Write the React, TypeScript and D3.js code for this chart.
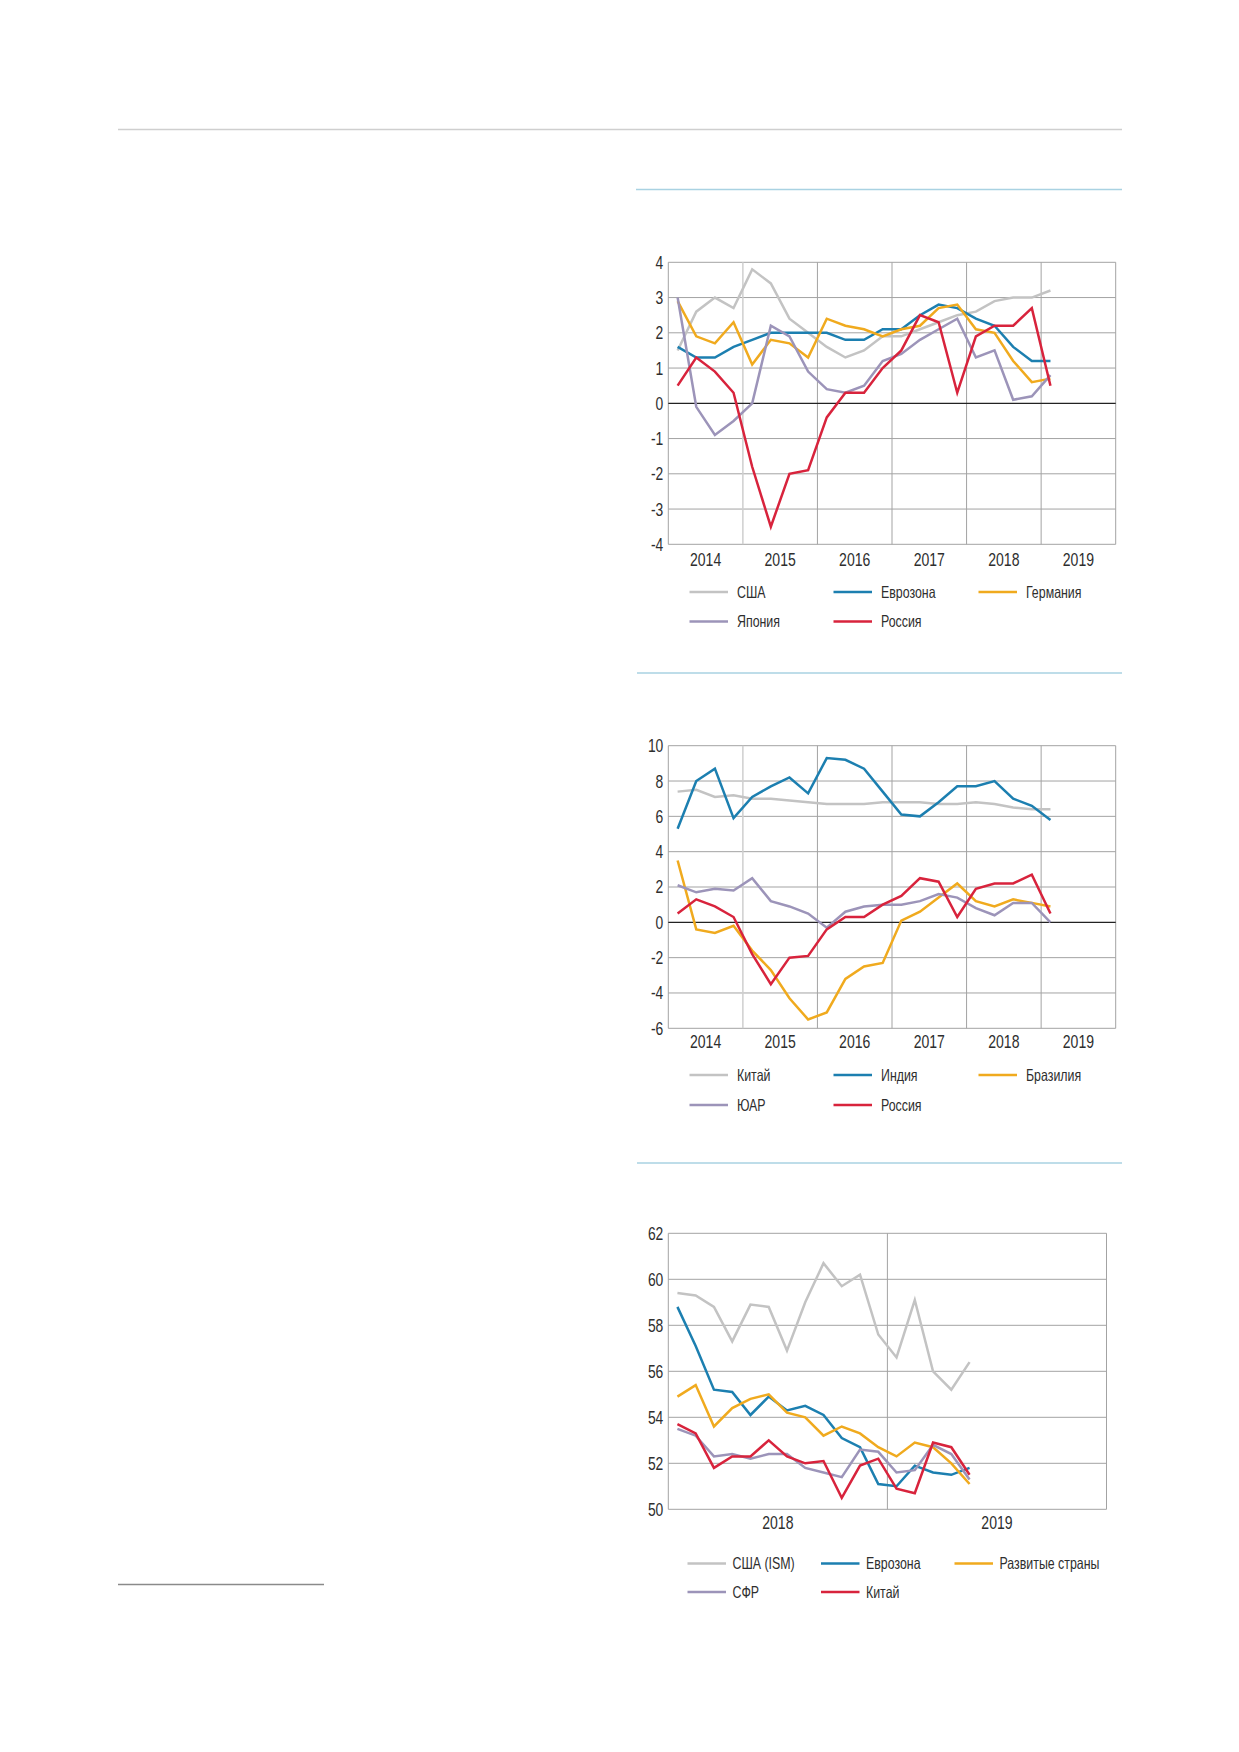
import React from "react";
import * as d3 from "d3";

// ---------- DATA ----------
// Chart 1: quarterly, 2014Q1 .. 2019Q1
const quarterStart = 2014;
const usa = [1.5, 2.6, 3.0, 2.7, 3.8, 3.4, 2.4, 2.0, 1.6, 1.3, 1.5, 1.9, 1.9, 2.1, 2.3, 2.5, 2.6, 2.9, 3.0, 3.0, 3.2];
const eurozone = [1.6, 1.3, 1.3, 1.6, 1.8, 2.0, 2.0, 2.0, 2.0, 1.8, 1.8, 2.1, 2.1, 2.5, 2.8, 2.7, 2.4, 2.2, 1.6, 1.2, 1.2];
const germany = [2.9, 1.9, 1.7, 2.3, 1.1, 1.8, 1.7, 1.3, 2.4, 2.2, 2.1, 1.9, 2.1, 2.2, 2.7, 2.8, 2.1, 2.0, 1.2, 0.6, 0.7];
const japan = [3.0, -0.1, -0.9, -0.5, 0.0, 2.2, 1.9, 0.9, 0.4, 0.3, 0.5, 1.2, 1.4, 1.8, 2.1, 2.4, 1.3, 1.5, 0.1, 0.2, 0.8];
const russia = [0.5, 1.3, 0.9, 0.3, -1.8, -3.5, -2.0, -1.9, -0.4, 0.3, 0.3, 1.0, 1.5, 2.5, 2.3, 0.3, 1.9, 2.2, 2.2, 2.7, 0.5];

// Chart 2: quarterly
const china = [7.4, 7.5, 7.1, 7.2, 7.0, 7.0, 6.9, 6.8, 6.7, 6.7, 6.7, 6.8, 6.8, 6.8, 6.7, 6.7, 6.8, 6.7, 6.5, 6.4, 6.4];
const india = [5.3, 8.0, 8.7, 5.9, 7.1, 7.7, 8.2, 7.3, 9.3, 9.2, 8.7, 7.4, 6.1, 6.0, 6.8, 7.7, 7.7, 8.0, 7.0, 6.6, 5.8];
const brazil = [3.5, -0.4, -0.6, -0.2, -1.6, -2.7, -4.3, -5.5, -5.1, -3.2, -2.5, -2.3, 0.1, 0.6, 1.4, 2.2, 1.2, 0.9, 1.3, 1.1, 0.9];
const southAfrica = [2.1, 1.7, 1.9, 1.8, 2.5, 1.2, 0.9, 0.5, -0.3, 0.6, 0.9, 1.0, 1.0, 1.2, 1.6, 1.4, 0.8, 0.4, 1.1, 1.1, 0.0];

// Chart 3: monthly, Jan 2018 .. May 2019
const pmiUsaIsm = [59.4, 59.3, 58.8, 57.3, 58.9, 58.8, 56.9, 59.0, 60.7, 59.7, 60.2, 57.6, 56.6, 59.1, 56.0, 55.2, 56.4];
const pmiEurozone = [58.8, 57.1, 55.2, 55.1, 54.1, 54.9, 54.3, 54.5, 54.1, 53.1, 52.7, 51.1, 51.0, 51.9, 51.6, 51.5, 51.8];
const pmiDeveloped = [54.9, 55.4, 53.6, 54.4, 54.8, 55.0, 54.2, 54.0, 53.2, 53.6, 53.3, 52.7, 52.3, 52.9, 52.7, 52.0, 51.1];
const pmiSfr = [53.5, 53.2, 52.3, 52.4, 52.2, 52.4, 52.4, 51.8, 51.6, 51.4, 52.6, 52.5, 51.6, 51.7, 52.8, 52.4, 51.3];
const pmiChina = [53.7, 53.3, 51.8, 52.3, 52.3, 53.0, 52.3, 52.0, 52.1, 50.5, 51.9, 52.2, 50.9, 50.7, 52.9, 52.7, 51.5];

const years1 = [2014, 2015, 2016, 2017, 2018, 2019];
const yTicks1 = [-4, -3, -2, -1, 0, 1, 2, 3, 4];
const yTicks2 = [-6, -4, -2, 0, 2, 4, 6, 8, 10];
const yTicks3 = [50, 52, 54, 56, 58, 60, 62];
const years3 = [2018, 2019];

const legend1 = ["США", "Еврозона", "Германия", "Япония", "Россия"];
const legend2 = ["Китай", "Индия", "Бразилия", "ЮАР", "Россия"];
const legend3 = ["США (ISM)", "Еврозона", "Развитые страны", "СФР", "Китай"];

// ---------- STYLE ----------
const C_GRAY = "#c3c3c3";
const C_BLUE = "#1c7fb0";
const C_ORANGE = "#f0aa1e";
const C_PURPLE = "#9c94b9";
const C_RED = "#d8233c";
const GRID = "#a3a3a3";
const FONT = "'Liberation Sans', Arial, sans-serif";
const TXT = "#2e2e2e";

function NarrowText(props: { x: number; y: number; anchor?: string; size: number; sx: number; children: React.ReactNode; middle?: boolean }) {
  return (
    <text transform={`translate(${props.x},${props.y}) scale(${props.sx},1)`} x={0} y={0}
      dy={props.middle ? "0.36em" : undefined}
      textAnchor={props.anchor || "start"} fontFamily={FONT} fontSize={props.size} fill={TXT}>
      {props.children}
    </text>
  );
}

type Series = { name: string; values: number[]; color: string };

function LineChart(props: {
  x0: number; x1: number; yTop: number; yBot: number;
  yDomain: [number, number]; yTicks: number[];
  xDomain: [number, number]; xPos: (i: number) => number;
  vlines: number[]; lightVline?: number; xLabels: { v: number; t: string }[]; xLabelY: number;
  zeroLine: boolean; series: Series[];
  legendCols: number[]; legendRows: number[]; legendLen: number; legendGap: number;
}) {
  const p = props;
  const x = d3.scaleLinear().domain(p.xDomain).range([p.x0, p.x1]);
  const y = d3.scaleLinear().domain(p.yDomain).range([p.yBot, p.yTop]);
  const line = d3.line<number>().x((_, i) => x(p.xPos(i))).y((v) => y(v)).curve(d3.curveLinear);
  return (
    <g>
      {p.yTicks.map((t) => (
        <g key={"y" + t}>
          {t !== 0 || !p.zeroLine ? (
            <line x1={p.x0} x2={p.x1} y1={y(t)} y2={y(t)} stroke={GRID} strokeWidth={1} />
          ) : null}
          <NarrowText x={p.x0 - 5} y={y(t)} anchor="end" size={18} sx={0.77} middle>{String(t)}</NarrowText>
        </g>
      ))}
      {p.vlines.map((v) => (
        <line key={"v" + v} x1={x(v)} x2={x(v)} y1={p.yTop} y2={p.yBot}
          stroke={v === p.lightVline ? "#cfcfcf" : GRID} strokeWidth={v === p.lightVline ? 1.5 : 1} />
      ))}
      <line x1={p.x0} x2={p.x0} y1={p.yTop} y2={p.yBot} stroke={GRID} strokeWidth={1} />
      {p.zeroLine ? (
        <line x1={p.x0} x2={p.x1} y1={y(0)} y2={y(0)} stroke="#222" strokeWidth={1.3} />
      ) : null}
      {p.xLabels.map((l) => (
        <NarrowText key={"x" + l.t} x={x(l.v)} y={p.xLabelY} anchor="middle" size={18} sx={0.78}>{l.t}</NarrowText>
      ))}
      {p.series.map((s) => (
        <path key={s.name} d={line(s.values) || ""} fill="none" stroke={s.color} strokeWidth={2.5}
          strokeLinejoin="miter" strokeLinecap="butt" />
      ))}
      {p.series.map((s, i) => {
        const cx = p.legendCols[i % 3];
        const cy = p.legendRows[Math.floor(i / 3)];
        return (
          <g key={"lg" + s.name}>
            <line x1={cx} x2={cx + p.legendLen} y1={cy} y2={cy} stroke={s.color} strokeWidth={2.5} />
            <NarrowText x={cx + p.legendLen + p.legendGap} y={cy} size={16.5} sx={0.75} middle>{s.name}</NarrowText>
          </g>
        );
      })}
    </g>
  );
}

export default function App() {
  const qPos = (i: number) => quarterStart + (i + 0.5) / 4;
  const mPos = (i: number) => i + 0.5;
  const yearLabels1 = years1.map((yr) => ({ v: yr + 0.5, t: String(yr) }));
  const yearLabels3 = years3.map((yr, k) => ({ v: k * 12 + 6, t: String(yr) }));
  const colors = [C_GRAY, C_BLUE, C_ORANGE, C_PURPLE, C_RED];

  const s1: Series[] = [usa, eurozone, germany, japan, russia].map((v, i) => ({ name: legend1[i], values: v, color: colors[i] }));
  const s2: Series[] = [china, india, brazil, southAfrica, russia].map((v, i) => ({ name: legend2[i], values: v, color: colors[i] }));
  const s3: Series[] = [pmiUsaIsm, pmiEurozone, pmiDeveloped, pmiSfr, pmiChina].map((v, i) => ({ name: legend3[i], values: v, color: colors[i] }));

  return (
    <svg width={1239} height={1752} style={{ position: "absolute", left: 0, top: 0, background: "#fff" }}>
      <rect x={0} y={0} width={1239} height={1752} fill="#fff" />
      <line x1={118} x2={1122} y1={129.5} y2={129.5} stroke="#cfcfcf" strokeWidth={1.5} />
      <line x1={636} x2={1122} y1={189.5} y2={189.5} stroke="#a9d2e2" strokeWidth={1.5} />
      <line x1={637} x2={1122} y1={673} y2={673} stroke="#a9d2e2" strokeWidth={1.5} />
      <line x1={637} x2={1122} y1={1163} y2={1163} stroke="#a9d2e2" strokeWidth={1.5} />
      <line x1={118} x2={324} y1={1584.5} y2={1584.5} stroke="#8a8a8a" strokeWidth={1.5} />

      <LineChart x0={668.3} x1={1115.7} yTop={262.3} yBot={544.3} yDomain={[-4, 4]} yTicks={yTicks1}
        xDomain={[2014, 2020]} xPos={qPos} vlines={[2015, 2016, 2017, 2018, 2019, 2020]} lightVline={2015}
        xLabels={yearLabels1} xLabelY={565.5} zeroLine={true} series={s1}
        legendCols={[689.5, 833.5, 978.5]} legendRows={[592, 621.5]} legendLen={38.5} legendGap={9} />

      <LineChart x0={668.3} x1={1115.7} yTop={745.7} yBot={1028.3} yDomain={[-6, 10]} yTicks={yTicks2}
        xDomain={[2014, 2020]} xPos={qPos} vlines={[2015, 2016, 2017, 2018, 2019, 2020]} lightVline={2015}
        xLabels={yearLabels1} xLabelY={1048} zeroLine={true} series={s2}
        legendCols={[689.5, 833.5, 978.5]} legendRows={[1075, 1105]} legendLen={38.5} legendGap={9} />

      <LineChart x0={668.3} x1={1106.5} yTop={1233.3} yBot={1509.3} yDomain={[50, 62]} yTicks={yTicks3}
        xDomain={[0, 24]} xPos={mPos} vlines={[12, 24]}
        xLabels={yearLabels3} xLabelY={1529} zeroLine={false} series={s3}
        legendCols={[687.5, 821, 954.5]} legendRows={[1563.5, 1592]} legendLen={38.5} legendGap={6.5} />
    </svg>
  );
}
